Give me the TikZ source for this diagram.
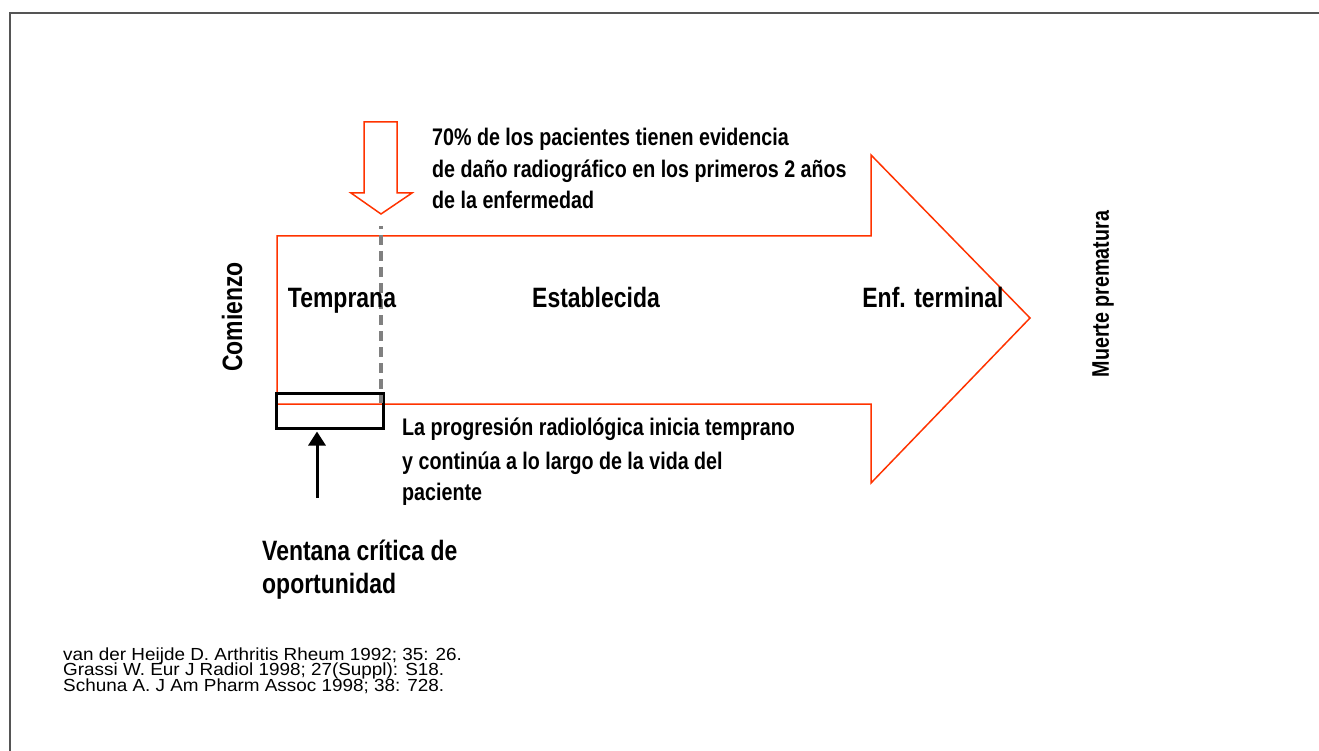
\documentclass[tikz,border=0pt]{standalone}
\usepackage{fontspec}
\setmainfont{Liberation Sans}
\newfontfamily\nb{Liberation Sans}[FakeStretch=0.82]
\newfontfamily\rf{Liberation Sans}[FakeStretch=1.08]
\usetikzlibrary{arrows.meta}
\definecolor{arrred}{HTML}{FF3300}
\definecolor{framegray}{HTML}{555555}
\definecolor{dashgray}{HTML}{808080}
\tikzset{
  big/.style={font=\nb\bfseries\fontsize{28}{32}\selectfont, inner sep=0pt},
  mid/.style={font=\nb\bfseries\fontsize{24}{30}\selectfont, inner sep=0pt, anchor=base west},
  ref/.style={font=\rf\fontsize{17.5}{16}\selectfont, inner sep=0pt, anchor=base west},
  redline/.style={draw=arrred, line width=1.5pt, line join=miter},
}
\begin{document}
\begin{tikzpicture}[x=1pt,y=-1pt]
\useasboundingbox (0,0) rectangle (1319,751);
% frame
\draw[framegray, line width=2pt] (10,751) -- (10,13) -- (1319,13);
% main arrow
\draw[redline] (277,236) -- (871,236) -- (871,155) -- (1030,318) -- (871,483) -- (871,404) -- (277,404) -- cycle;
% down hollow arrow
\draw[redline] (364,122) -- (397,122) -- (397,193) -- (412,193) -- (381,214) -- (351,193) -- (364,193) -- cycle;
\coordinate (dtip) at (381,226);
% window box
\node[draw=black, line width=3pt, minimum width=107pt, minimum height=35pt, inner sep=0pt] (win) at (330,410.5) {};
\coordinate (dend) at (381,403);
\draw[dashgray, line width=4pt, dash pattern=on 10pt off 6pt, dash phase=7pt] (dtip) -- (dend);
% up arrow
\coordinate (ustart) at (317,498);
\draw[black, line width=3pt, -{Triangle[width=17pt,length=14pt]}] (ustart) -- ([yshift=-2pt]ustart |- win.south);
% stage labels
\node[big, anchor=base] (temp) at (342,307) {Temprana};
\node[big, anchor=base] (est) at (596,307) {Establecida};
\node[big, anchor=base] (enf) at (933,307) {Enf. terminal};
\node[big, rotate=90] (com) at (232,317) {Comienzo};
\node[font=\nb\bfseries\fontsize{24}{30}\selectfont, inner sep=0pt, rotate=90] (mue) at (1103,294) {Muerte prematura};
% upper text
\node[mid] (u1) at (432,146) {70\% de los pacientes tienen evidencia};
\node[mid] (u2) at (432,178) {de daño radiográfico en los primeros 2 años};
\node[mid] (u3) at (432,209) {de la enfermedad};
% lower text
\node[mid] (l1) at (402,435) {La progresión radiológica inicia temprano};
\node[mid] (l2) at (402,469) {y continúa a lo largo de la vida del};
\node[mid] (l3) at (402,500) {paciente};
% window label
\node[big, anchor=base west] (v1) at (262,560) {Ventana crítica de};
\node[big, anchor=base west] (v2) at (262,593) {oportunidad};
% references
\node[ref] (r1) at (63,660) {van der Heijde D. Arthritis Rheum 1992; 35: 26.};
\node[ref] (r2) at (63,675.5) {Grassi W. Eur J Radiol 1998; 27(Suppl): S18.};
\node[ref] (r3) at (63,691) {Schuna A. J Am Pharm Assoc 1998; 38: 728.};
\end{tikzpicture}
\end{document}
